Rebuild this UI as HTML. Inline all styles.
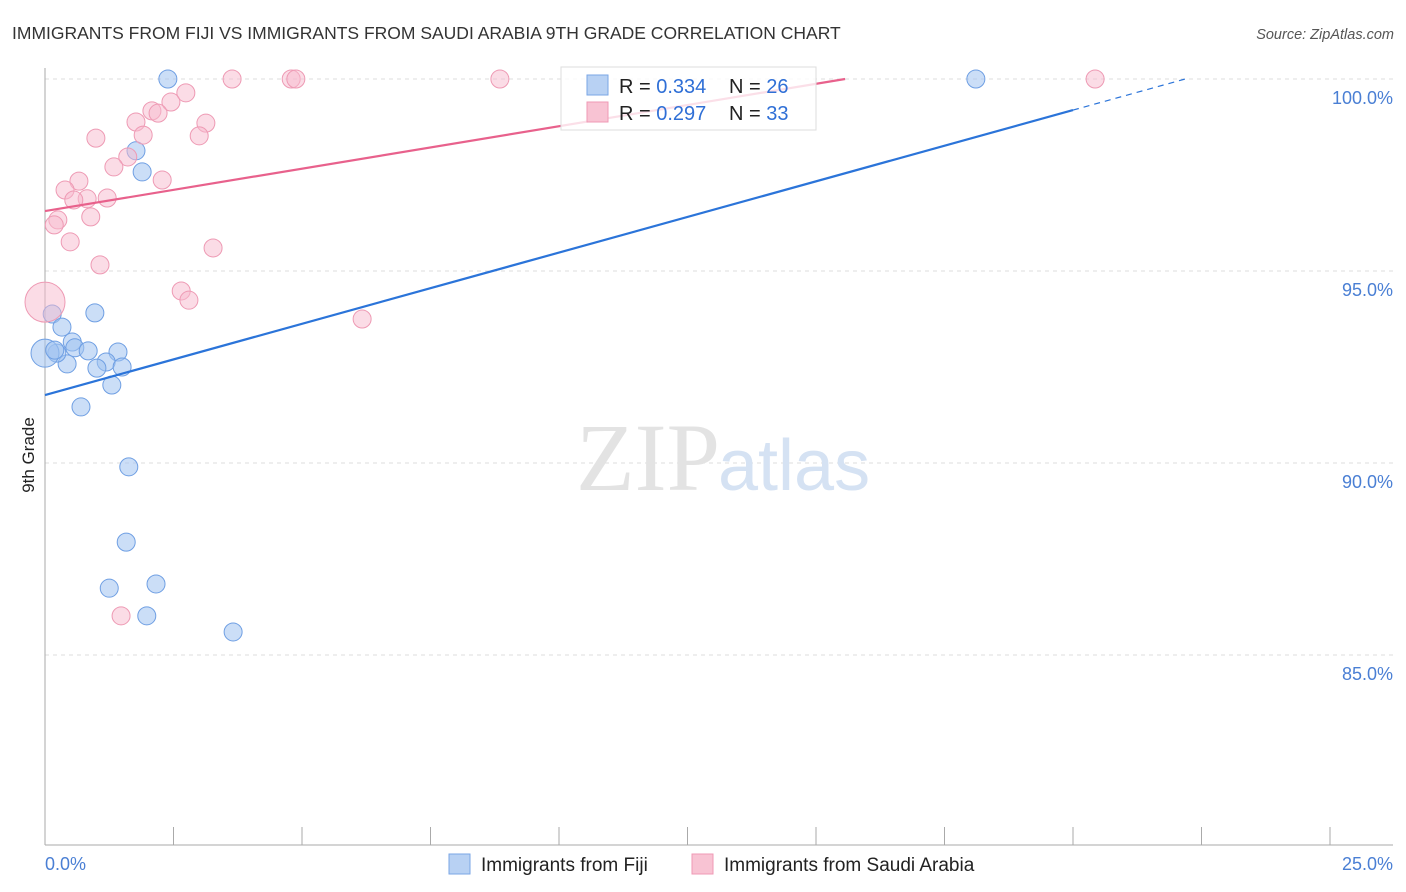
<!DOCTYPE html>
<html><head><meta charset="utf-8">
<style>
body{margin:0;background:#fff;font-family:"Liberation Sans",sans-serif;}
#wrap{position:relative;width:1406px;height:892px;overflow:hidden;}
</style></head>
<body>
<div id="wrap">
<svg id="svg" width="1406" height="892" xmlns="http://www.w3.org/2000/svg">
  <text x="12" y="39" font-size="17.5" fill="#333">IMMIGRANTS FROM FIJI VS IMMIGRANTS FROM SAUDI ARABIA 9TH GRADE CORRELATION CHART</text>
  <text x="1394" y="39" font-size="14.5" fill="#555" font-style="italic" text-anchor="end">Source: ZipAtlas.com</text>
  <text transform="translate(34,455) rotate(-90)" font-size="17" fill="#222" text-anchor="middle">9th Grade</text>
  <g id="grid"></g>
  <text x="720" y="490" font-size="96" fill="#e3e3e3" text-anchor="end" font-family="Liberation Serif,serif">ZIP</text>
  <text x="718" y="490" font-size="72" fill="#d5e2f3">atlas</text>
  <g id="points"></g>
  <g id="lines"></g>
  <g>
    <rect x="561" y="67" width="255" height="63" fill="#fff" fill-opacity="0.8" stroke="#ddd"/>
    <rect x="587" y="75" width="21" height="20" fill="#b8d1f3" stroke="#7aa6e6"/>
    <rect x="587" y="102" width="21" height="20" fill="#f8c3d3" stroke="#ef9ab5"/>
    <text x="619" y="93" font-size="20" fill="#222">R = <tspan fill="#2f6fd6">0.334</tspan></text>
    <text x="729" y="93" font-size="20" fill="#222">N = <tspan fill="#2f6fd6">26</tspan></text>
    <text x="619" y="120" font-size="20" fill="#222">R = <tspan fill="#2f6fd6">0.297</tspan></text>
    <text x="729" y="120" font-size="20" fill="#222">N = <tspan fill="#2f6fd6">33</tspan></text>
  </g>
  <g>
    <rect x="449" y="854" width="21" height="20" fill="#b8d1f3" stroke="#7aa6e6"/>
    <text x="481" y="871" font-size="19" fill="#222">Immigrants from Fiji</text>
    <rect x="692" y="854" width="21" height="20" fill="#f8c3d3" stroke="#ef9ab5"/>
    <text x="724" y="871" font-size="19" fill="#222">Immigrants from Saudi Arabia</text>
  </g>
</svg>
</div>
<script>
const yTicks=[85,90,95,100];
const yTickLabels=["85.0%","90.0%","95.0%","100.0%"];
const xTicks=[0,2.5,5,7.5,10,12.5,15,17.5,20,22.5,25];
const xEndLabels=["0.0%","25.0%"];
const fijiX=[2.39,1.77,1.89,0.97,0.14,0.33,0.53,0.58,0.84,1.42,1.19,1.01,1.50,0.43,0.23,0,1.30,0.70,1.63,1.58,1.25,2.16,1.98,3.66,18.11,0.19];
const fijiY=[100,98.13,97.58,93.91,93.88,93.54,93.15,93.0,92.92,92.89,92.63,92.47,92.5,92.58,92.86,92.86,92.03,91.46,89.9,87.94,86.74,86.85,86.02,85.6,100,92.94];
const fijiR=[9,9,9,9,9,9,9,9,9,9,9,9,9,9,9,14,9,9,9,9,9,9,9,9,9,9];
const saudiX=[3.64,4.79,4.88,8.85,20.43,2.74,2.45,2.08,2.20,1.77,3.13,1.91,0.99,3.0,1.61,1.34,2.28,0.66,0.39,1.21,0.82,0.56,0.89,0.25,0.18,0.49,3.27,1.07,2.65,2.80,6.17,1.48,0];
const saudiY=[100,100,100,100,100,99.64,99.4,99.17,99.11,98.88,98.85,98.54,98.46,98.52,97.97,97.71,97.37,97.34,97.11,96.9,96.88,96.85,96.41,96.33,96.2,95.76,95.6,95.16,94.48,94.24,93.75,86.02,94.19];
const saudiR=[9,9,9,9,9,9,9,9,9,9,9,9,9,9,9,9,9,9,9,9,9,9,9,9,9,9,9,9,9,9,9,9,20];
const fijiTrend=[91.77,99.19]; // y at x=0 and x=20
const saudiTrend=[96.56,0.221]; // intercept, slope per %
const X0=45,X1=1330,Y100=79,Y80=847;
const sx=v=>X0+(v/25)*(X1-X0);
const sy=v=>Y100+(100-v)/20*(Y80-Y100);
const NS="http://www.w3.org/2000/svg";
function mk(tag,attrs,parent){const e=document.createElementNS(NS,tag);for(const k in attrs)e.setAttribute(k,attrs[k]);parent.appendChild(e);return e;}
const grid=document.getElementById('grid');
yTicks.forEach((t,i)=>{
  const l=mk('line',{x1:X0,x2:1393,y1:sy(t),y2:sy(t),stroke:'#ddd','stroke-dasharray':'4,4'},grid);
  
  
  const tx=mk('text',{x:1393,y:sy(t)+25,'font-size':18,fill:'#4a7fd4','text-anchor':'end'},grid);
  tx.textContent=yTickLabels[i];
  
  
});
const ax=mk('line',{x1:X0,x2:X0,y1:68,y2:845,stroke:'#aaa'},grid);


const bx=mk('line',{x1:X0,x2:1393,y1:845,y2:845,stroke:'#aaa'},grid);


xTicks.forEach(t=>{
  const l=mk('line',{x1:sx(t),x2:sx(t),y1:827,y2:845,stroke:'#aaa'},grid);
  
  
});
const xl0=mk('text',{x:45,y:870,'font-size':18,fill:'#4a7fd4'},grid);xl0.textContent=xEndLabels[0];


const xl1=mk('text',{x:1393,y:870,'font-size':18,fill:'#4a7fd4','text-anchor':'end'},grid);xl1.textContent=xEndLabels[1];


const pts=document.getElementById('points');
fijiX.forEach((x,i)=>{
  const c=mk('circle',{cx:sx(x),cy:sy(fijiY[i]),r:fijiR[i],fill:'rgba(160,195,240,0.55)',stroke:'#6f9fe3','stroke-width':1},pts);
  
  
});
saudiX.forEach((x,i)=>{
  const c=mk('circle',{cx:sx(x),cy:sy(saudiY[i]),r:saudiR[i],fill:'rgba(248,185,205,0.5)',stroke:'#ee9ab4','stroke-width':1},pts);
  
  
});
const lines=document.getElementById('lines');
const fs=(fijiTrend[1]-fijiTrend[0])/20;
const fl=mk('line',{x1:sx(0),y1:sy(fijiTrend[0]),x2:sx(20),y2:sy(fijiTrend[1]),stroke:'#2b74d9','stroke-width':2.2},lines);


const xEnd=(100-fijiTrend[0])/fs;
const fd=mk('line',{x1:sx(20),y1:sy(fijiTrend[1]),x2:sx(xEnd),y2:sy(100),stroke:'#2b74d9','stroke-width':1.2,'stroke-dasharray':'6,5'},lines);


const sEnd=(100-saudiTrend[0])/saudiTrend[1];
const sl=mk('line',{x1:sx(0),y1:sy(saudiTrend[0]),x2:sx(sEnd),y2:sy(100),stroke:'#e8618c','stroke-width':2.2},lines);


</script>
</body></html>
